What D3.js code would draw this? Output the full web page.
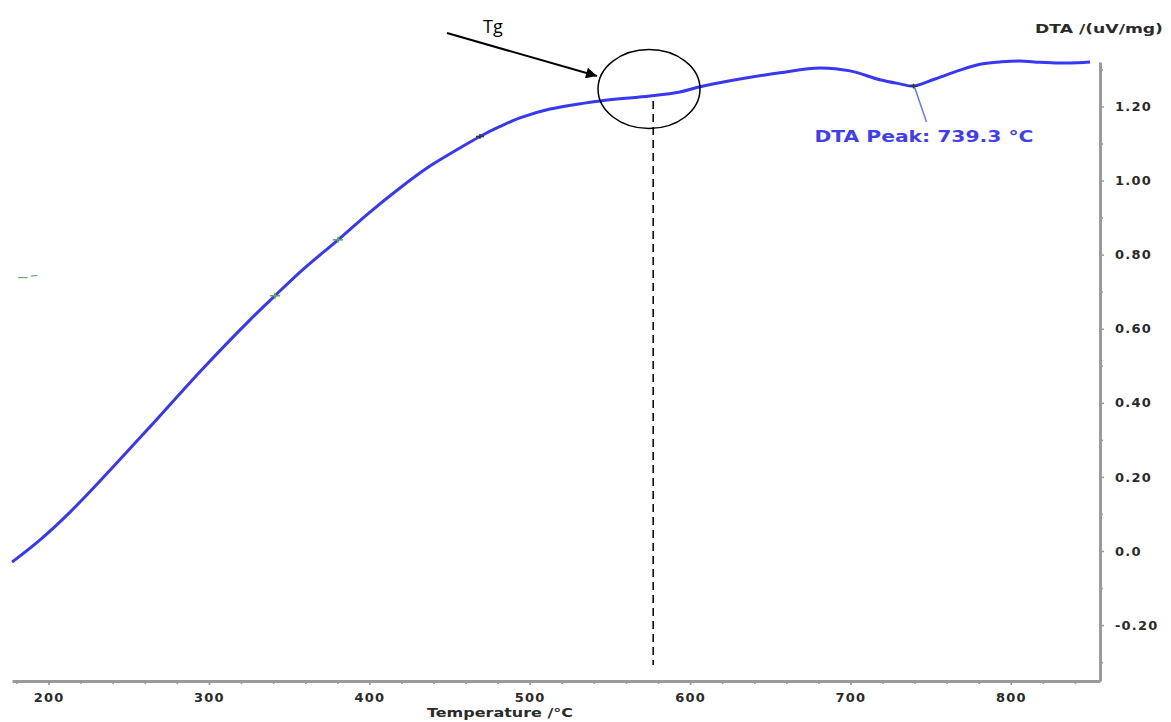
<!DOCTYPE html>
<html>
<head>
<meta charset="utf-8">
<script src="https://cdn.jsdelivr.net/npm/d3@7"></script>
<style>
  body { margin: 0; background: #fff; }
  svg text { font-family: "DejaVu Sans", Verdana, sans-serif; }
</style>
</head>
<body>
<div id="chart"></div>
<script>
// DTA curve (temperature in degC, signal in uV/mg)
var temps = [177.2, 194.7, 213.4, 232.1, 263.2, 294.4, 325.6, 341.2, 356.8, 380.5,
             400.4, 419.1, 437.8, 456.5, 469.0, 481.5, 493.9, 512.6, 543.8, 575.0,
             593.7, 606.2, 631.1, 656.1, 681.0, 699.7, 718.4, 730.9, 739.3, 752.7,
             768.3, 780.8, 793.2, 805.7, 818.2, 830.7, 842.0, 849.4];
var dta   = [-0.030, 0.030, 0.105, 0.189, 0.335, 0.484, 0.624, 0.689, 0.753, 0.840,
             0.915, 0.980, 1.039, 1.088, 1.119, 1.146, 1.169, 1.193, 1.215, 1.228,
             1.239, 1.253, 1.274, 1.291, 1.304, 1.296, 1.272, 1.261, 1.255, 1.274,
             1.298, 1.314, 1.320, 1.323, 1.319, 1.317, 1.318, 1.320];

var xMajor = [200, 300, 400, 500, 600, 700, 800];
var xMinor = d3.range(180, 856, 20);
var yMajor = [1.2, 1.0, 0.8, 0.6, 0.4, 0.2, 0.0, -0.2];
var yMajorLabels = ["1.20", "1.00", "0.80", "0.60", "0.40", "0.20", "0.0", "-0.20"];
var yMinor = [1.3, 1.1, 0.9, 0.7, 0.5, 0.3, 0.1, -0.1, -0.3];

var greenMarks = [341.2, 380.5];
var blackMarks = [469.0];
var peakTemp = 739.3, peakValue = 1.255;
var peakLabel = "DTA Peak: 739.3 \u00B0C";
var tgTemp = 577, tgValue = 1.228;

// manually set margins
var margin = {top: 62, right: 71, bottom: 41, left: 12},
    width = 1171 - margin.left - margin.right,
    height = 722 - margin.top - margin.bottom;

var x = d3.scaleLinear()
    .domain([177.2, 855.6])
    .range([0, width]);

var y = d3.scaleLinear()
    .domain([-0.351, 1.32])
    .range([height, 0]);

var svg = d3.select("#chart")
  .append("svg")
    .attr("width", width + margin.left + margin.right)
    .attr("height", height + margin.top + margin.bottom);

var g = svg.append("g")
    .attr("transform", "translate(" + margin.left + "," + margin.top + ")");

var axisColor = "#9a9a9a", textColor = "#2a2a2a";

// bottom axis: minor ticks then labelled ticks
var xMinorAxis = d3.axisBottom(x).tickValues(xMinor).tickSize(3).tickFormat("").tickSizeOuter(0);
var xAxis = d3.axisBottom(x).tickValues(xMajor).tickSize(4).tickPadding(8).tickSizeOuter(0);

var gx1 = g.append("g").attr("transform", "translate(0," + height + ")").call(xMinorAxis);
var gx = g.append("g").attr("transform", "translate(0," + height + ")").call(xAxis);
gx.select(".domain").remove();

// right axis
var yMinorAxis = d3.axisRight(y).tickValues(yMinor).tickSize(3).tickFormat("").tickSizeOuter(0);
var yAxis = d3.axisRight(y).tickValues(yMajor).tickSize(4).tickPadding(11).tickSizeOuter(0)
    .tickFormat(function(d, i) { return yMajorLabels[i]; });

var gy1 = g.append("g").attr("transform", "translate(" + width + ",0)").call(yMinorAxis);
var gy = g.append("g").attr("transform", "translate(" + width + ",0)").call(yAxis);
gy.select(".domain").remove();

[gx1, gx, gy1, gy].forEach(function(a) {
  a.selectAll(".domain").attr("stroke", axisColor).attr("stroke-width", 3);
  a.selectAll(".tick line").attr("stroke", axisColor).attr("stroke-width", 1.5);
  a.selectAll("text")
    .attr("fill", textColor)
    .style("font-size", "13px")
    .style("font-weight", "bold")
    .style("letter-spacing", "1.2px");
});

// axis titles
svg.append("text")
    .attr("x", 427).attr("y", 717)
    .attr("textLength", 146).attr("lengthAdjust", "spacingAndGlyphs")
    .attr("fill", textColor)
    .style("font-size", "13px").style("font-weight", "bold")
    .text("Temperature /\u00B0C");

svg.append("text")
    .attr("x", 1035).attr("y", 33)
    .attr("textLength", 128).attr("lengthAdjust", "spacingAndGlyphs")
    .attr("fill", textColor)
    .style("font-size", "13px").style("font-weight", "bold")
    .text("DTA /(uV/mg)");

// stray green marks near the left edge
g.append("g").selectAll("line")
    .data([[181, 187], [189, 193]])
  .enter().append("line")
    .attr("x1", function(d) { return x(d[0]); })
    .attr("x2", function(d) { return x(d[1]); })
    .attr("y1", function(d, i) { return y(0.738 + i * 0.004); })
    .attr("y2", function(d, i) { return y(0.738 + i * 0.006); })
    .attr("stroke", "#6fae6f").attr("stroke-width", 1.2);

// the curve
var line = d3.line()
    .x(function(d, i) { return x(temps[i]); })
    .y(function(d) { return y(d); })
    .curve(d3.curveCatmullRom.alpha(0.5));

g.append("path")
    .datum(dta)
    .attr("fill", "none")
    .attr("stroke", "#3838f2")
    .attr("stroke-width", 3)
    .attr("d", line);

function valueAt(t) {
  var i = d3.bisectLeft(temps, t);
  if (i <= 0) return dta[0];
  var t0 = temps[i - 1], t1 = temps[i];
  return dta[i - 1] + (dta[i] - dta[i - 1]) * (t - t0) / (t1 - t0);
}

function cross(sel, color, size) {
  sel.append("line").attr("x1", -size).attr("x2", size).attr("y1", 0).attr("y2", 0)
    .attr("stroke", color).attr("stroke-width", 1.5);
  sel.append("line").attr("x1", 0).attr("x2", 0).attr("y1", -size * 0.6).attr("y2", size * 0.6)
    .attr("stroke", color).attr("stroke-width", 1.5);
}

greenMarks.forEach(function(t) {
  var m = g.append("g").attr("transform", "translate(" + x(t) + "," + y(valueAt(t)) + ")");
  cross(m, "#5da65d", 5);
});
blackMarks.forEach(function(t) {
  var m = g.append("g").attr("transform", "translate(" + x(t) + "," + y(valueAt(t)) + ")");
  cross(m, "#333", 4);
});

// DTA peak annotation
var px = x(peakTemp), py = y(peakValue);
g.append("line")
    .attr("x1", px + 1).attr("y1", py + 1)
    .attr("x2", px + 13).attr("y2", py + 36)
    .attr("stroke", "#6678f2").attr("stroke-width", 1.5);
cross(g.append("g").attr("transform", "translate(" + px + "," + py + ")"), "#333", 4);
g.append("text")
    .attr("x", px - 99).attr("y", py + 56)
    .attr("textLength", 219).attr("lengthAdjust", "spacingAndGlyphs")
    .attr("fill", "#3f3ff0")
    .style("font-size", "16px").style("font-weight", "bold")
    .text(peakLabel);

// Tg marker: dashed drop line, circle and arrow
var tx = x(tgTemp);
g.append("line")
    .attr("x1", tx).attr("x2", tx)
    .attr("y1", y(tgValue) + 5).attr("y2", y(-0.308))
    .attr("stroke", "#000").attr("stroke-width", 1.5)
    .attr("stroke-dasharray", "8,5");

var ex = x(574.4), ey = y(1.247);
g.append("ellipse")
    .attr("cx", ex).attr("cy", ey)
    .attr("rx", 51).attr("ry", 39.5)
    .attr("fill", "none").attr("stroke", "#000").attr("stroke-width", 1.5);

svg.append("defs").append("marker")
    .attr("id", "head")
    .attr("viewBox", "0 0 10 10")
    .attr("refX", 10).attr("refY", 5)
    .attr("markerWidth", 7).attr("markerHeight", 5.5)
    .attr("markerUnits", "strokeWidth")
    .attr("orient", "auto")
  .append("path")
    .attr("d", "M0,0L10,5L0,10z")
    .attr("fill", "#000");

var tipX = margin.left + ex - 52, tipY = margin.top + ey - 13;
svg.append("line")
    .attr("x1", tipX - 150).attr("y1", tipY - 43)
    .attr("x2", tipX).attr("y2", tipY)
    .attr("stroke", "#000").attr("stroke-width", 2)
    .attr("marker-end", "url(#head)");

svg.append("text")
    .attr("x", tipX - 114).attr("y", tipY - 43)
    .attr("fill", "#000")
    .style("font-family", "'Open Sans', 'Liberation Sans', sans-serif")
    .style("font-size", "18px")
    .text("Tg");
</script>
</body>
</html>
